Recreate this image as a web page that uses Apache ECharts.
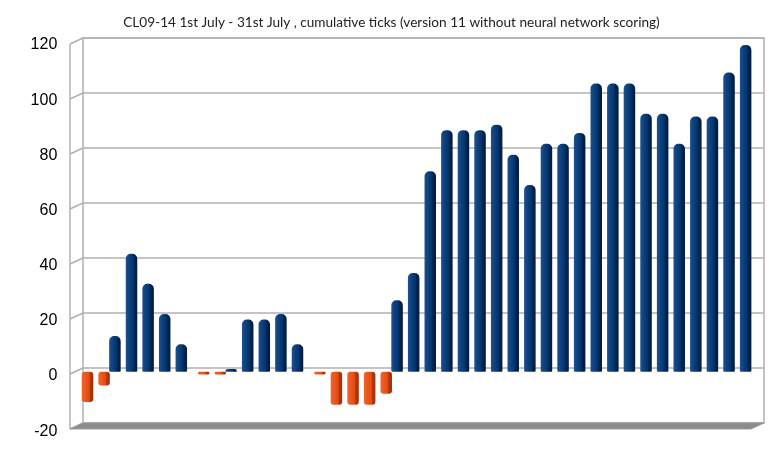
<!DOCTYPE html>
<html>
<head>
<meta charset="utf-8">
<title>CL09-14 cumulative ticks</title>
<script src="https://cdn.jsdelivr.net/npm/echarts@6/dist/echarts.min.js"></script>
<style>
  html, body { margin: 0; padding: 0; background: #fff; }
  #chart { width: 783px; height: 464px; }
</style>
</head>
<body>
<div id="chart"></div>
<script>
'use strict';

// one bar per trading session, cumulative ticks
var sessions = ['1', '2', '3', '4', '5', '6', '7', '8', '9', '10',
  '11', '12', '13', '14', '15', '16', '17', '18', '19', '20',
  '21', '22', '23', '24', '25', '26', '27', '28', '29', '30',
  '31', '32', '33', '34', '35', '36', '37', '38', '39', '40', '41'];
var ticks = [-11, -5, 13, 43, 32, 21, 10, -1, -1, 1,
  19, 19, 21, 10, -1, -12, -12, -12, -8, 26,
  36, 73, 88, 88, 88, 90, 79, 68, 83, 83,
  87, 105, 105, 105, 94, 94, 83, 93, 93, 109, 119];
var yTicks = [-20, 0, 20, 40, 60, 80, 100, 120];

var gains = ticks.map(function (v) { return v >= 0 ? v : '-'; });
var losses = ticks.map(function (v) { return v < 0 ? v : '-'; });

var blueFace = new echarts.graphic.LinearGradient(0, 0, 1, 0, [
  { offset: 0, color: '#1c5090' },
  { offset: 0.3, color: '#0e427e' },
  { offset: 0.66, color: '#00336b' },
  { offset: 0.7, color: '#002653' },
  { offset: 1, color: '#001c40' }
]);
var orangeFace = new echarts.graphic.LinearGradient(0, 0, 1, 0, [
  { offset: 0, color: '#f2642c' },
  { offset: 0.66, color: '#e24a12' },
  { offset: 0.7, color: '#b9390a' },
  { offset: 1, color: '#a02e06' }
]);

var myChart = echarts.init(document.getElementById('chart'));

myChart.setOption({
  animation: false,
  title: {
    text: 'CL09-14 1st July - 31st July , cumulative ticks (version 11 without neural network scoring)',
    left: 'center',
    top: 11,
    textStyle: { fontFamily: 'Lato', fontSize: 13.6, fontWeight: 'normal', color: '#222' }
  },
  grid: [
    // back wall
    { left: 83, right: 19, top: 38, bottom: 41, show: true, borderColor: '#b0b0b0', borderWidth: 1.5 },
    // plane of the bars
    { left: 76.3, right: 26.2, top: 42.3, bottom: 37.4 },
    // front edge, carries the labels
    { left: 76.3, right: 26.2, top: 45, bottom: 32.8 }
  ],
  xAxis: [
    { gridIndex: 0, type: 'category', data: sessions, show: false },
    { gridIndex: 1, type: 'category', data: sessions, show: false },
    { gridIndex: 2, type: 'category', data: sessions, show: false }
  ],
  yAxis: [
    {
      gridIndex: 0, type: 'value', min: -20, max: 120, interval: 20,
      axisLabel: { show: false }, axisLine: { show: false }, axisTick: { show: false },
      splitLine: { lineStyle: { color: '#b0b0b0', width: 1.5 } }
    },
    {
      gridIndex: 1, type: 'value', min: -20, max: 120, interval: 20, show: false
    },
    {
      gridIndex: 2, type: 'value', min: -20, max: 120, interval: 20,
      axisLine: { show: false }, axisTick: { show: false }, splitLine: { show: false },
      axisLabel: { margin: 19, color: '#000', fontFamily: 'Liberation Sans', fontSize: 16 }
    }
  ],
  series: [
    {
      name: 'gain', type: 'bar', xAxisIndex: 1, yAxisIndex: 1,
      data: gains, barWidth: 11.5, barGap: '-50%',
      itemStyle: { color: blueFace, borderRadius: [5, 5, 1, 1] }
    },
    {
      name: 'loss', type: 'bar', xAxisIndex: 1, yAxisIndex: 1,
      data: losses, barWidth: 11.5,
      itemStyle: { color: orangeFace, borderRadius: 3 }
    }
  ]
});

// left wall edge and floor slab, placed from the back-wall axis
var gridRect = myChart.getModel().getComponent('grid', 0).coordinateSystem.getRect();
var depthX = -13, depthY = 6;
var decor = [];
yTicks.forEach(function (v) {
  var y = myChart.convertToPixel({ yAxisIndex: 0 }, v);
  decor.push({
    type: 'line', silent: true,
    shape: { x1: gridRect.x + depthX, y1: y + depthY, x2: gridRect.x, y2: y },
    style: { stroke: '#b0b0b0', lineWidth: 1.5 }
  });
});
var yTop = myChart.convertToPixel({ yAxisIndex: 0 }, 120);
var yBottom = myChart.convertToPixel({ yAxisIndex: 0 }, -20);
decor.push({
  type: 'line', silent: true,
  shape: { x1: gridRect.x + depthX, y1: yTop + depthY, x2: gridRect.x + depthX, y2: yBottom + depthY },
  style: { stroke: '#b0b0b0', lineWidth: 1.5 }
});
decor.push({
  type: 'polygon', silent: true,
  shape: {
    points: [
      [gridRect.x, yBottom],
      [gridRect.x + gridRect.width, yBottom],
      [gridRect.x + gridRect.width + depthX, yBottom + depthY],
      [gridRect.x + depthX, yBottom + depthY]
    ]
  },
  style: { fill: '#8c8c8c', stroke: '#9a9a9a', lineWidth: 1 }
});
myChart.setOption({ graphic: decor });
</script>
</body>
</html>
